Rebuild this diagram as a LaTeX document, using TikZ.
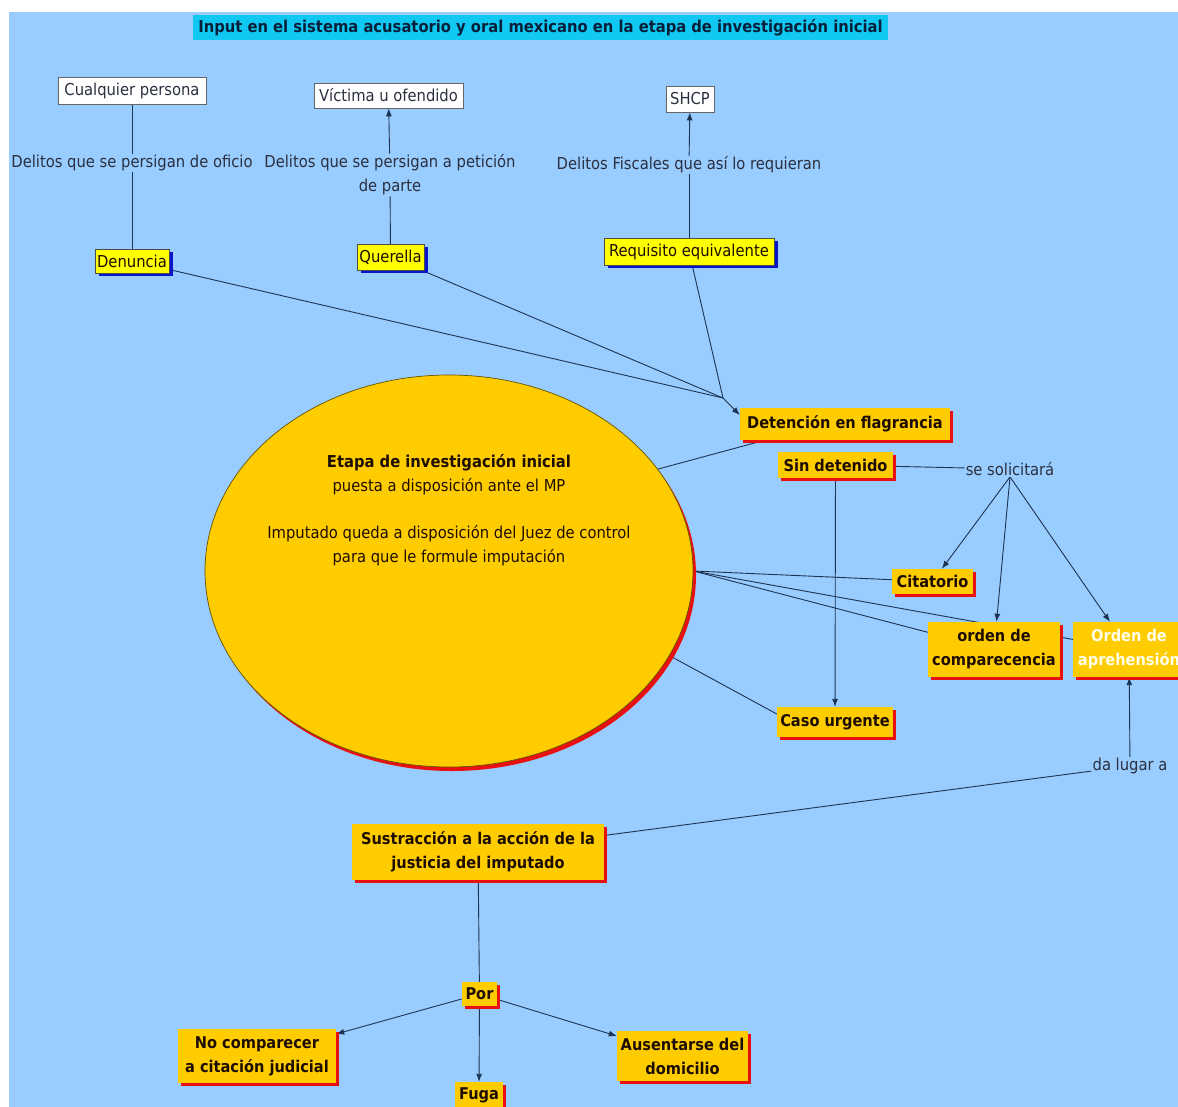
\documentclass[tikz,border=0pt]{standalone}
\usepackage{fontspec}
\setmainfont{DejaVu Sans Condensed}
\usetikzlibrary{arrows.meta,shapes.geometric,shadows}

\definecolor{paperblue}{HTML}{99CCFF}
\definecolor{titlecyan}{HTML}{11C8F2}
\definecolor{titleink}{HTML}{06203A}
\definecolor{conceptorange}{HTML}{FFCC00}
\definecolor{shadowred}{HTML}{E81010}
\definecolor{conceptyellow}{HTML}{FFFF00}
\definecolor{shadowblue}{HTML}{0A14C8}
\definecolor{ink}{HTML}{1E0E00}
\definecolor{labelink}{HTML}{2A3040}
\definecolor{linkline}{HTML}{1C3452}

\pgfdeclarelayer{paper}
\pgfdeclarelayer{edges}
\pgfsetlayers{paper,edges,main}

\tikzset{
  x=1pt, y=-1pt,
  sz/.style 2 args={minimum width=#1pt, minimum height=#2pt},
  basefont/.style={font=\fontsize{16.4}{24}\selectfont},
  boldfont/.style={font=\fontsize{16.2}{24}\selectfont\bfseries},
  whitebox/.style={basefont, draw=gray!80!black, line width=0.6pt, fill=white,
    text=labelink, inner sep=0pt},
  yellowbox/.style={basefont, draw=gray!60!black, line width=0.4pt, fill=conceptyellow,
    text=ink, inner sep=0pt,
    drop shadow={shadow xshift=3.5pt, shadow yshift=-3.5pt, fill=shadowblue, opacity=1}},
  orangebox/.style={boldfont, fill=conceptorange, text=ink, inner sep=0pt, align=center,
    drop shadow={shadow xshift=3pt, shadow yshift=-3pt, fill=shadowred, opacity=1}},
  lbl/.style={basefont, fill=paperblue, text=labelink, inner sep=1pt, align=center},
  conn/.style={draw=linkline, line width=0.9pt},
  arr/.style={conn, -{Latex[length=8pt,width=6pt]}},
}

\begin{document}
\begin{tikzpicture}
\useasboundingbox (0,0) rectangle (1178,1107);
\begin{pgfonlayer}{paper}
  \fill[white] (0,0) rectangle (1178,1107);
  \fill[paperblue] (9,12) rectangle (1178,1107);
\end{pgfonlayer}

% title
\node[fill=titlecyan, text=titleink, sz={695}{25}, inner sep=0pt,
      font=\fontsize{16.4}{24}\selectfont\bfseries] (title) at (540.5,27.5)
  {Input en el sistema acusatorio y oral mexicano en la etapa de investigación inicial};

% sources
\node[whitebox, sz={148}{27}] (cp) at (132,90.5) {Cualquier persona};
\node[whitebox, sz={149}{25}] (vic) at (388.5,95.5) {Víctima u ofendido};
\node[whitebox, sz={48}{26}] (shcp) at (690,99) {SHCP};

% linking phrases of the upper row
\node[lbl] (l1) at (132,163) {Delitos que se persigan de oficio};
\node[lbl] (l2) at (390,175) {Delitos que se persigan a petición\\de parte};
\node[lbl] (l3) at (689,165) {Delitos Fiscales que así lo requieran};

% ways to start the investigation
\node[yellowbox, sz={74}{24}] (den) at (132,261) {Denuncia};
\node[yellowbox, sz={67}{26}] (que) at (390.5,257) {Querella};
\node[yellowbox, sz={170}{27}] (req) at (689,251.5) {Requisito equivalente};

\coordinate (join) at (723,398);

% central stage
\node[ellipse, fill=conceptorange, draw=black!60!conceptorange, line width=0.7pt,
      minimum width=488pt, minimum height=392pt, inner sep=0pt,
      drop shadow={shadow xshift=3pt, shadow yshift=-4pt, fill=shadowred, opacity=1}]
  (ell) at (449,571) {};
\node[basefont, text=ink, align=center, anchor=north] (etxt) at (449,451)
  {\textbf{Etapa de investigación inicial}\\puesta a disposición ante el MP\\[23pt]
   Imputado queda a disposición del Juez de control\\para que le formule imputación};

% outcomes
\node[orangebox, sz={210}{32}] (det) at (845,424) {Detención en flagrancia};
\node[orangebox, sz={115}{26}] (sin) at (835.5,465) {Sin detenido};
\node[lbl] (sl) at (1010,469) {se solicitará};
\node[orangebox, sz={81}{25}] (cit) at (932.5,581.5) {Citatorio};
\node[orangebox, sz={132}{55}] (oc) at (994,649.5) {orden de\\comparecencia};
\node[orangebox, sz={112}{55}, text=white!92!yellow] (oa) at (1129,649.5) {Orden de\\aprehensión};
\node[orangebox, sz={116}{30}] (cu) at (835,722) {Caso urgente};

\node[lbl] (dl) at (1130,766) {da lugar a};
\node[orangebox, sz={252}{56}] (sus) at (478,852) {Sustracción a la acción de la\\justicia del imputado};
\node[orangebox, sz={35}{24}] (por) at (479.5,994) {Por};
\node[orangebox, sz={158}{54}] (nc) at (257,1056) {No comparecer\\a citación judicial};
\node[orangebox, sz={48}{26}] (fuga) at (479,1095) {Fuga};
\node[orangebox, sz={131}{50}] (aus) at (682.5,1056) {Ausentarse del\\domicilio};

\begin{pgfonlayer}{edges}
  % upper row
  \draw[conn] (cp) -- (l1);
  \draw[conn] (l1) -- (den);
  \draw[conn] (que) -- (l2);
  \draw[arr] (l2) -- (vic);
  \draw[conn] (req) -- (l3);
  \draw[arr] (l3) -- (shcp);
  % converge on detention
  \draw[conn] (den) -- (join);
  \draw[conn] (que) -- (join);
  \draw[conn] (req) -- (join);
  \draw[arr] (join) -- ([yshift=9pt]det.west);
  % from the central stage
  \draw[conn] (ell.26) -- ([xshift=25pt]det.south west);
  \draw[conn] (ell.east) -- (cit);
  \draw[conn] (ell.east) -- (oc);
  \draw[conn] (ell.east) -- (oa);
  \draw[conn] (ell.-21) -- ([yshift=8pt]cu.west);
  % without detainee
  \draw[conn] (sin) -- (sl);
  \draw[arr] (sl.south) -- (cit);
  \draw[arr] (sl.south) -- (oc);
  \draw[arr] (sl.south) -- (oa);
  \draw[arr] (sin) -- (cu);
  % evasion
  \draw[conn] (sus) -- (dl);
  \draw[arr] (dl) -- (oa);
  \draw[conn] (sus) -- (por);
  \draw[arr] (por) -- (nc);
  \draw[arr] (por) -- (fuga);
  \draw[arr] (por) -- (aus);
\end{pgfonlayer}
\end{tikzpicture}
\end{document}
